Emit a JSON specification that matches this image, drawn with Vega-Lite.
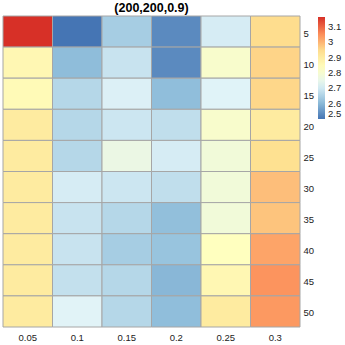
{
  "$schema": "https://vega.github.io/schema/vega-lite/v6.json",
  "autosize": "none",
  "width": 297,
  "height": 311,
  "padding": {"left": 3, "top": 16, "right": 45, "bottom": 18},
  "background": "white",
  "title": {"text": "(200,200,0.9)", "fontSize": 12.5, "fontWeight": "bold", "font": "Liberation Sans", "color": "black", "offset": 1, "anchor": "middle"},
  "config": {"view": {"stroke": null}, "font": "Liberation Sans"},
  "data": {"values": [
    {"x": "0.05", "y": 5, "v": 3.165}, {"x": "0.1", "y": 5, "v": 2.50}, {"x": "0.15", "y": 5, "v": 2.641}, {"x": "0.2", "y": 5, "v": 2.532}, {"x": "0.25", "y": 5, "v": 2.708}, {"x": "0.3", "y": 5, "v": 2.947},
    {"x": "0.05", "y": 10, "v": 2.862}, {"x": "0.1", "y": 10, "v": 2.608}, {"x": "0.15", "y": 10, "v": 2.688}, {"x": "0.2", "y": 10, "v": 2.532}, {"x": "0.25", "y": 10, "v": 2.808}, {"x": "0.3", "y": 10, "v": 2.959},
    {"x": "0.05", "y": 15, "v": 2.851}, {"x": "0.1", "y": 15, "v": 2.662}, {"x": "0.15", "y": 15, "v": 2.716}, {"x": "0.2", "y": 15, "v": 2.610}, {"x": "0.25", "y": 15, "v": 2.722}, {"x": "0.3", "y": 15, "v": 2.955},
    {"x": "0.05", "y": 20, "v": 2.905}, {"x": "0.1", "y": 20, "v": 2.662}, {"x": "0.15", "y": 20, "v": 2.694}, {"x": "0.2", "y": 20, "v": 2.677}, {"x": "0.25", "y": 20, "v": 2.808}, {"x": "0.3", "y": 20, "v": 2.905},
    {"x": "0.05", "y": 25, "v": 2.905}, {"x": "0.1", "y": 25, "v": 2.662}, {"x": "0.15", "y": 25, "v": 2.761}, {"x": "0.2", "y": 25, "v": 2.708}, {"x": "0.25", "y": 25, "v": 2.783}, {"x": "0.3", "y": 25, "v": 2.94},
    {"x": "0.05", "y": 30, "v": 2.905}, {"x": "0.1", "y": 30, "v": 2.708}, {"x": "0.15", "y": 30, "v": 2.694}, {"x": "0.2", "y": 30, "v": 2.677}, {"x": "0.25", "y": 30, "v": 2.783}, {"x": "0.3", "y": 30, "v": 2.988},
    {"x": "0.05", "y": 35, "v": 2.905}, {"x": "0.1", "y": 35, "v": 2.688}, {"x": "0.15", "y": 35, "v": 2.662}, {"x": "0.2", "y": 35, "v": 2.612}, {"x": "0.25", "y": 35, "v": 2.783}, {"x": "0.3", "y": 35, "v": 2.981},
    {"x": "0.05", "y": 40, "v": 2.905}, {"x": "0.1", "y": 40, "v": 2.688}, {"x": "0.15", "y": 40, "v": 2.641}, {"x": "0.2", "y": 40, "v": 2.621}, {"x": "0.25", "y": 40, "v": 2.833}, {"x": "0.3", "y": 40, "v": 3.023},
    {"x": "0.05", "y": 45, "v": 2.905}, {"x": "0.1", "y": 45, "v": 2.681}, {"x": "0.15", "y": 45, "v": 2.662}, {"x": "0.2", "y": 45, "v": 2.599}, {"x": "0.25", "y": 45, "v": 2.862}, {"x": "0.3", "y": 45, "v": 3.044},
    {"x": "0.05", "y": 50, "v": 2.905}, {"x": "0.1", "y": 50, "v": 2.724}, {"x": "0.15", "y": 50, "v": 2.662}, {"x": "0.2", "y": 50, "v": 2.610}, {"x": "0.25", "y": 50, "v": 2.905}, {"x": "0.3", "y": 50, "v": 3.038}
  ]},
  "mark": {"type": "rect", "stroke": "#a6a6a6", "strokeWidth": 1},
  "encoding": {
    "x": {"field": "x", "type": "ordinal", "sort": ["0.05", "0.1", "0.15", "0.2", "0.25", "0.3"],
      "scale": {"paddingInner": 0, "paddingOuter": 0},
      "axis": {"title": null, "orient": "bottom", "labelAngle": 0, "ticks": false, "domain": false, "labelFontSize": 9.5, "labelColor": "#222222", "labelPadding": 5, "labelFont": "Liberation Sans"}},
    "y": {"field": "y", "type": "ordinal", "sort": "ascending",
      "scale": {"paddingInner": 0, "paddingOuter": 0},
      "axis": {"title": null, "orient": "right", "ticks": false, "domain": false, "labelFontSize": 9.5, "labelColor": "#222222", "labelPadding": 3, "labelOffset": 2, "labelFont": "Liberation Sans"}},
    "color": {"field": "v", "type": "quantitative",
      "scale": {"domain": [2.5, 2.611, 2.722, 2.833, 2.943, 3.054, 3.165], "range": ["#4575b4", "#91bfdb", "#e0f3f8", "#ffffbf", "#fee090", "#fc8d59", "#d73027"], "interpolate": "rgb"},
      "legend": {"title": null, "orient": "none", "legendX": 315, "legendY": 1, "direction": "vertical", "gradientLength": 102, "gradientThickness": 7, "gradientStrokeWidth": 0, "values": [2.5, 2.6, 2.7, 2.8, 2.9, 3.0, 3.1], "format": ".1~f", "labelFontSize": 9.5, "labelColor": "#222222", "labelFont": "Liberation Sans", "labelOffset": 3, "labelOverlap": false, "labelSeparation": 0}}
  }
}
